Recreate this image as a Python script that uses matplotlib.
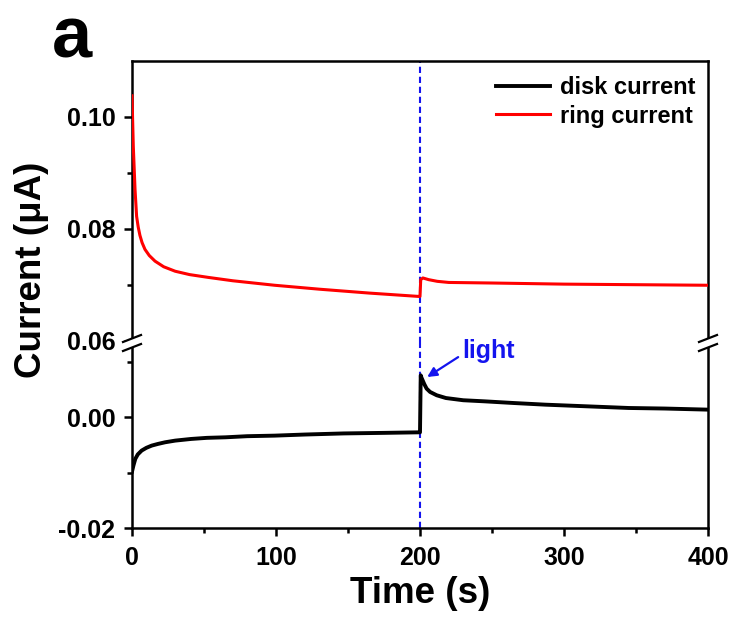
import numpy as np
import matplotlib
matplotlib.use("Agg")
import matplotlib.pyplot as plt
from matplotlib.lines import Line2D
from matplotlib.patches import Polygon

# disk current (black), uA
disk_t = [0, 1, 2.3, 4, 6.7, 10, 13.7, 18, 23, 30, 41, 52, 65, 80, 99, 120, 147, 175, 199.5,
          200.0, 200.5, 201, 203, 204.6, 207, 211.6, 218, 230, 245, 265, 287, 316, 345, 370, 400]
disk_i = [-0.0098, -0.0087, -0.0075, -0.0067, -0.0060, -0.0055, -0.0051, -0.0048, -0.0045, -0.0042,
          -0.0039, -0.0037, -0.0036, -0.0034, -0.0033, -0.0031, -0.0029, -0.0028, -0.0027,
          -0.0027, 0.0076, 0.0072, 0.0060, 0.0052, 0.0046, 0.0040, 0.0035, 0.0031, 0.0029,
          0.0026, 0.0023, 0.0020, 0.0017, 0.0016, 0.0014]

# ring current (red), uA
ring_t = [0, 0.9, 2.1, 3.2, 4.3, 5.5, 7, 9, 12, 16, 22, 30, 40, 53, 70, 99, 130, 165, 199.5,
          200.0, 200.5, 202, 206, 212, 220, 250, 300, 350, 400]
ring_i = [0.1037, 0.0947, 0.0870, 0.0822, 0.0803, 0.0788, 0.0775, 0.0763, 0.0752, 0.0742, 0.0732,
          0.0724, 0.0718, 0.0713, 0.0707, 0.0699, 0.0692, 0.0685, 0.0679,
          0.0679, 0.0709, 0.0712, 0.0709, 0.0706, 0.0704, 0.0703, 0.0701, 0.0700, 0.0699]

light_on = 200

plt.rcParams["font.family"] = "Liberation Sans"
plt.rcParams["font.weight"] = "bold"
plt.rcParams["axes.linewidth"] = 1.8

W, H = 735, 619
fig = plt.figure(figsize=(W / 100, H / 100), dpi=100)


def fx(px):
    return px / W


def fy(py):
    return 1 - py / H


left, right = 132, 708
top, brk, bottom = 61, 343, 528
ax_top = fig.add_axes([fx(left), fy(brk), fx(right - left), fy(top) - fy(brk)])
ax_bot = fig.add_axes([fx(left), fy(bottom), fx(right - left), fy(brk) - fy(bottom)])

blue = "#1414ee"
ax_bot.plot(disk_t, disk_i, color="black", lw=2.8, label="disk current", zorder=3)
ax_top.plot(ring_t, ring_i, color="#ff0000", lw=2.2, label="ring current", zorder=3)
for ax in (ax_top, ax_bot):
    ax.axvline(light_on, color=blue, lw=1.5, ls=(0, (3, 1.8)), zorder=2)
    ax.set_xlim(0, 400)
    ax.tick_params(which="both", direction="out", width=1.8, labelsize=18,
                   top=False, right=False)
    ax.tick_params(which="major", length=6, pad=6)
    ax.tick_params(which="minor", length=3.5)

ax_top.set_ylim(0.0596, 0.1099)
ax_top.set_yticks([0.06, 0.08, 0.10])
ax_top.set_yticks([0.07, 0.09], minor=True)
ax_top.set_yticklabels(["0.06", "0.08", "0.10"])
ax_top.set_xticks([])
ax_top.tick_params(axis="x", which="both", bottom=False, labelbottom=False)
ax_top.spines["bottom"].set_visible(False)

ax_bot.set_ylim(-0.02, 0.01345)
ax_bot.set_yticks([-0.02, 0.00])
ax_bot.set_yticks([-0.01, 0.01], minor=True)
ax_bot.set_yticklabels(["-0.02", "0.00"])
ax_bot.set_xticks([0, 100, 200, 300, 400])
ax_bot.set_xticks([50, 150, 250, 350], minor=True)
ax_bot.tick_params(axis="x", which="major", pad=7)
ax_bot.spines["top"].set_visible(False)

# legend for both traces
handles = [ax_bot.get_lines()[0], ax_top.get_lines()[0]]
fig.legend(handles, [h.get_label() for h in handles], loc="upper right",
           bbox_to_anchor=(fx(707), fy(64)), frameon=False, fontsize=17,
           handlelength=2.3, handletextpad=0.4, labelspacing=0.25, borderpad=0)

# light marker
ax_bot.annotate("", xy=(205, 0.0073), xytext=(226.5, 0.0109),
                arrowprops=dict(arrowstyle="-|>", color=blue, lw=1.6, mutation_scale=14,
                                shrinkA=0, shrinkB=0))
ax_bot.text(229, 0.0107, "light", color=blue, fontsize=18, ha="left", va="baseline",
            clip_on=False)


# axis break marks
def draw_break(cx, cy):
    dx, dy, sep = 9, 3.5, 4.5
    a = (cx - dx, cy + dy + sep)
    b = (cx + dx, cy - dy + sep)
    c = (cx + dx, cy - dy - sep)
    d = (cx - dx, cy + dy - sep)
    poly = Polygon([(fx(p[0]), fy(p[1])) for p in (a, b, c, d)], closed=True,
                   transform=fig.transFigure, facecolor="white", edgecolor="none", zorder=10)
    fig.add_artist(poly)
    for p, q in ((a, b), (d, c)):
        fig.add_artist(Line2D([fx(p[0]), fx(q[0])], [fy(p[1]), fy(q[1])], color="black",
                              lw=1.6, transform=fig.transFigure, zorder=11))


draw_break(left, brk)
draw_break(right, brk)

fig.text(fx(32), fy(270), "Current (μA)", rotation=90, fontsize=26.5, ha="center", va="center")
fig.text(fx(420), fy(603), "Time (s)", fontsize=26.5, ha="center", va="baseline")
fig.text(fx(52), fy(57), "a", fontsize=52, ha="left", va="baseline")

fig.savefig("out.png", dpi=100)
